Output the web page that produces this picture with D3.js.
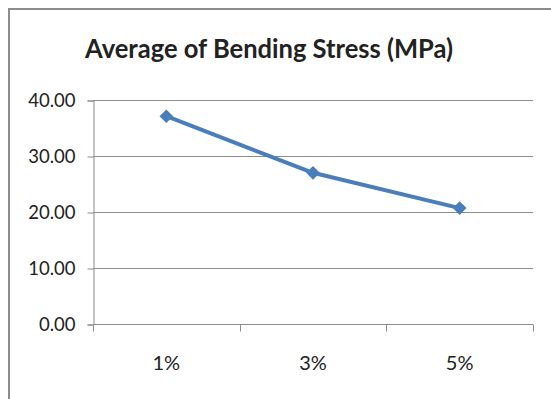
<!DOCTYPE html>
<html>
<head>
<meta charset="utf-8">
<script src="https://cdn.jsdelivr.net/npm/d3@7"></script>
<style>
  html, body { margin: 0; padding: 0; background: #fff; }
  svg { display: block; }
  text { font-family: Lato, "Open Sans", sans-serif; fill: #222; }
</style>
</head>
<body>
<svg id="chart" width="551" height="399"></svg>
<script>
// Average bending stress by additive content
const categories = ["1%", "3%", "5%"];
const stress = [37.1, 27.0, 20.7];
const yTicks = [0, 10, 20, 30, 40];
const chartTitle = "Average of Bending Stress (MPa)";

const svg = d3.select("#chart");
const W = 551, H = 399;
const margin = { left: 93, right: 18, top: 100, bottom: 75 };

// chart frame
svg.append("rect")
  .attr("x", 9).attr("y", 9)
  .attr("width", W + 20).attr("height", H + 20)
  .attr("fill", "#fff")
  .attr("stroke", "#8c8c8c")
  .attr("stroke-width", 2);

const x = d3.scaleBand()
  .domain(categories)
  .range([margin.left, W - margin.right])
  .padding(0);

const y = d3.scaleLinear()
  .domain([0, 40])
  .range([H - margin.bottom, margin.top]);

// horizontal gridlines
svg.append("g")
  .selectAll("line")
  .data(yTicks)
  .join("line")
  .attr("x1", margin.left).attr("x2", W - margin.right)
  .attr("y1", d => Math.round(y(d)) + 0.5)
  .attr("y2", d => Math.round(y(d)) + 0.5)
  .attr("stroke", "#8c8c8c")
  .attr("stroke-width", 1);

// y axis
const yAxis = svg.append("g")
  .attr("transform", `translate(${margin.left + 0.5},0.5)`)
  .call(d3.axisLeft(y).tickValues(yTicks).tickFormat(d3.format(".2f")).tickSize(6).tickPadding(12));
yAxis.select(".domain").attr("stroke", "#8c8c8c");
yAxis.selectAll(".tick line").attr("stroke", "#8c8c8c");
yAxis.selectAll("text")
  .style("font-family", "Lato, sans-serif")
  .style("font-size", "18.5px")
  .attr("fill", "#222");

// x axis with ticks at category boundaries
const xAxisG = svg.append("g")
  .attr("transform", `translate(0,${Math.round(y(0)) + 0.5})`);
xAxisG.append("line")
  .attr("x1", margin.left).attr("x2", W - margin.right)
  .attr("stroke", "#8c8c8c");
const bounds = categories.map(c => x(c)).concat([x(categories[categories.length - 1]) + x.bandwidth()]);
xAxisG.selectAll("line.tk")
  .data(bounds)
  .join("line")
  .attr("class", "tk")
  .attr("x1", d => Math.round(d) + 0.5).attr("x2", d => Math.round(d) + 0.5)
  .attr("y1", 0).attr("y2", 7)
  .attr("stroke", "#8c8c8c");
xAxisG.selectAll("text")
  .data(categories)
  .join("text")
  .attr("x", d => x(d) + x.bandwidth() / 2)
  .attr("y", 45)
  .attr("text-anchor", "middle")
  .style("font-size", "20px")
  .text(d => d);

// data line
const line = d3.line()
  .x((d, i) => x(categories[i]) + x.bandwidth() / 2)
  .y(d => y(d));

svg.append("path")
  .datum(stress)
  .attr("d", line)
  .attr("fill", "none")
  .attr("stroke", "#4a7ebb")
  .attr("stroke-width", 4)
  .attr("stroke-linejoin", "round");

// diamond markers
const diamond = d3.symbol().type(d3.symbolDiamond2).size(120);
svg.append("g")
  .selectAll("path")
  .data(stress)
  .join("path")
  .attr("transform", (d, i) => `translate(${x(categories[i]) + x.bandwidth() / 2},${y(d)})`)
  .attr("d", diamond)
  .attr("fill", "#4a7ebb");

// title
svg.append("text")
  .attr("x", 269)
  .attr("y", 58)
  .attr("text-anchor", "middle")
  .attr("textLength", 368)
  .attr("lengthAdjust", "spacingAndGlyphs")
  .style("font-size", "27px")
  .style("font-weight", "bold")
  .attr("fill", "#000")
  .text(chartTitle);
</script>
</body>
</html>
